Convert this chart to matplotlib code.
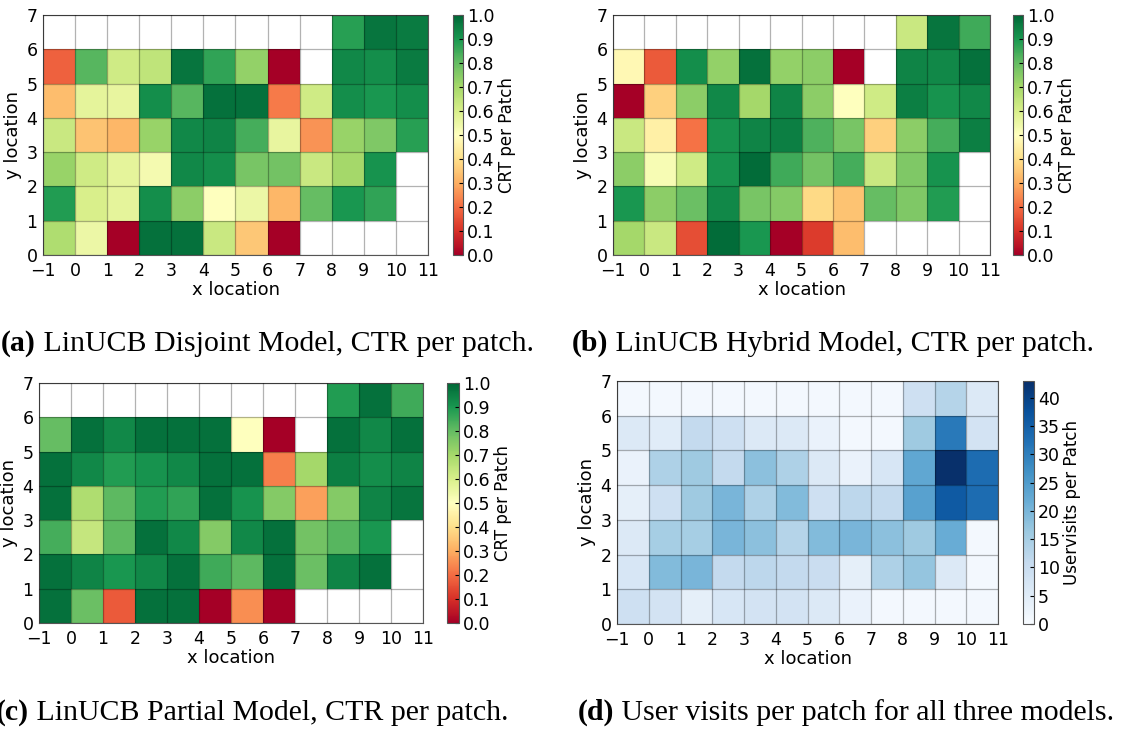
import numpy as np
import matplotlib
matplotlib.use("Agg")
import matplotlib.pyplot as plt

nan = np.nan

# cell edges of the grid
x_edges = np.arange(-1, 12)
y_edges = np.arange(0, 8)

# rows listed top (y=6..7) to bottom (y=0..1), columns x=-1..10
ctr_disjoint = [
    [nan, nan, nan, nan, nan, nan, nan, nan, nan, 0.88, 0.97, 0.96],
    [0.18, 0.82, 0.62, 0.65, 0.97, 0.87, 0.73, 0.00, nan, 0.93, 0.92, 0.96],
    [0.33, 0.57, 0.56, 0.92, 0.82, 0.98, 0.98, 0.22, 0.62, 0.92, 0.90, 0.92],
    [0.63, 0.34, 0.32, 0.72, 0.93, 0.94, 0.84, 0.56, 0.26, 0.72, 0.76, 0.88],
    [0.72, 0.62, 0.57, 0.53, 0.93, 0.92, 0.77, 0.78, 0.63, 0.70, 0.91, nan],
    [0.89, 0.60, 0.57, 0.92, 0.74, 0.50, 0.55, 0.32, 0.80, 0.90, 0.87, nan],
    [0.68, 0.55, 0.00, 0.98, 0.98, 0.63, 0.35, 0.00, nan, nan, nan, nan],
]

ctr_hybrid = [
    [nan, nan, nan, nan, nan, nan, nan, nan, nan, 0.63, 0.97, 0.85],
    [0.48, 0.17, 0.92, 0.73, 0.98, 0.73, 0.74, 0.00, nan, 0.94, 0.93, 0.98],
    [0.00, 0.37, 0.74, 0.93, 0.70, 0.94, 0.74, 0.50, 0.62, 0.95, 0.91, 0.93],
    [0.63, 0.45, 0.21, 0.91, 0.94, 0.95, 0.83, 0.77, 0.37, 0.74, 0.84, 0.95],
    [0.74, 0.52, 0.62, 0.91, 0.99, 0.85, 0.78, 0.84, 0.63, 0.76, 0.91, nan],
    [0.90, 0.74, 0.79, 0.93, 0.77, 0.75, 0.39, 0.34, 0.80, 0.76, 0.89, nan],
    [0.70, 0.63, 0.15, 0.99, 0.90, 0.00, 0.12, 0.33, nan, nan, nan, nan],
]

ctr_partial = [
    [nan, nan, nan, nan, nan, nan, nan, nan, nan, 0.89, 0.98, 0.85],
    [0.80, 0.98, 0.93, 0.98, 0.98, 0.98, 0.50, 0.00, nan, 0.98, 0.93, 0.98],
    [0.98, 0.93, 0.89, 0.91, 0.93, 0.98, 0.98, 0.23, 0.70, 0.95, 0.92, 0.94],
    [0.98, 0.68, 0.81, 0.89, 0.87, 0.98, 0.91, 0.75, 0.28, 0.75, 0.94, 0.97],
    [0.84, 0.64, 0.81, 0.98, 0.93, 0.75, 0.93, 0.98, 0.78, 0.82, 0.90, nan],
    [0.98, 0.94, 0.90, 0.93, 0.98, 0.85, 0.81, 0.98, 0.79, 0.94, 0.98, nan],
    [0.98, 0.79, 0.17, 0.98, 0.98, 0.00, 0.25, 0.00, nan, nan, nan, nan],
]

user_visits = [
    [1, 1, 1, 1, 1, 1, 1, 1, 1, 9, 13, 6],
    [6, 5, 11, 9, 6, 6, 3, 1, 1, 16, 31, 8],
    [3, 14, 16, 11, 18, 14, 6, 3, 7, 23, 43, 33],
    [4, 9, 16, 20, 14, 19, 9, 12, 11, 24, 36, 33],
    [6, 15, 15, 20, 18, 13, 19, 20, 18, 16, 22, 1],
    [7, 19, 20, 11, 12, 11, 10, 4, 14, 17, 6, 1],
    [9, 8, 4, 7, 8, 8, 6, 3, 1, 1, 1, 1],
]

captions = [
    ("(a)", " LinUCB Disjoint Model, CTR per patch."),
    ("(b)", " LinUCB Hybrid Model, CTR per patch."),
    ("(c)", " LinUCB Partial Model, CTR per patch."),
    ("(d)", " User visits per patch for all three models."),
]

W, H = 1131, 729
fig = plt.figure(figsize=(W / 100, H / 100), dpi=100)


def box(x0, x1, y0, y1):
    return [x0 / W, 1 - y1 / H, (x1 - x0) / W, (y1 - y0) / H]


def heat(ax_box, cb_box, data, cmap, vmin, vmax, cb_ticks, cb_label):
    ax = fig.add_axes(box(*ax_box))
    cax = fig.add_axes(box(*cb_box))
    z = np.ma.masked_invalid(np.array(data, dtype=float)[::-1])
    m = ax.pcolormesh(x_edges, y_edges, z, cmap=cmap, vmin=vmin, vmax=vmax)
    ax.set_xlim(-1, 11)
    ax.set_ylim(0, 7)
    ax.set_xticks(np.arange(-1, 12))
    ax.set_yticks(np.arange(0, 8))
    ax.tick_params(length=0, labelsize=12.5)
    ax.tick_params(axis='x', pad=5)
    ax.tick_params(axis='y', pad=4)
    ax.grid(True, color='k', alpha=0.3, linewidth=0.9)
    ax.set_axisbelow(False)
    for s in ax.spines.values():
        s.set_color('#555555')
    ax.set_xlabel('x location', fontsize=13, labelpad=1)
    ax.set_ylabel('y location', fontsize=13, labelpad=3)
    cb = fig.colorbar(m, cax=cax, ticks=cb_ticks)
    cb.outline.set_edgecolor('#555555')
    cb.ax.tick_params(labelsize=12.5, length=3, width=0.8, direction='in', pad=3)
    cb.set_label(cb_label, fontsize=12, labelpad=2)
    cb.ax.set_yticklabels([f"{t:.1f}" if vmax <= 1 else f"{t:g}" for t in cb_ticks])
    return ax


ctr_ticks = np.round(np.arange(0, 1.01, 0.1), 1)
ax_a = heat((43, 428, 15, 255), (453, 463, 15, 255), ctr_disjoint, 'RdYlGn', 0, 1,
            ctr_ticks, 'CRT per Patch')
ax_b = heat((613, 990, 15, 255), (1013, 1023, 15, 255), ctr_hybrid, 'RdYlGn', 0, 1,
            ctr_ticks, 'CRT per Patch')
ax_c = heat((39, 423, 383, 623), (447, 459, 383, 623), ctr_partial, 'RdYlGn', 0, 1,
            ctr_ticks, 'CRT per Patch')
ax_d = heat((617, 998, 381, 624), (1023, 1034, 381, 624), user_visits, 'Blues', 0, 43,
            list(range(0, 45, 5)), 'Uservisits per Patch')

cap_pos = [(1, 343), (572, 343), (-4, 712), (578, 712)]
for ax, (bold, rest), (px, py) in zip([ax_a, ax_b, ax_c, ax_d], captions, cap_pos):
    t = fig.text(px / W, 1 - py / H, bold, fontsize=21.5, fontweight='bold',
                 family='Liberation Serif', va='center', ha='left')
    ax.annotate(rest, xy=(1, 0), xycoords=t, va='bottom', ha='left',
                fontsize=21.5, family='Liberation Serif')

fig.savefig('out.png', dpi=100)
